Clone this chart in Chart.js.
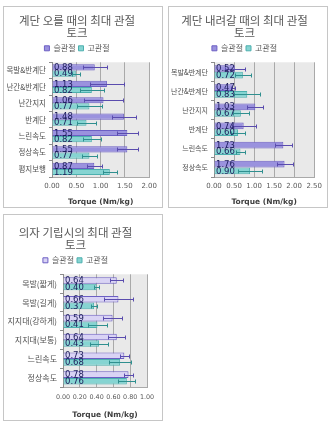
<!DOCTYPE html>
<html>
<head>
<meta charset="utf-8">
<script src="https://cdn.jsdelivr.net/npm/chart.js@4.4.0/dist/chart.umd.min.js"></script>
<style>
  body { margin: 0; background: #fff; width: 332px; height: 424px; position: relative; overflow: hidden; }
  .panel { position: absolute; border: 1px solid #c6c6c6; background: #fff; }
  .panel canvas { display: block; }
</style>
</head>
<body>
<div class="panel" style="left:3px;top:6px;width:158px;height:200px"><canvas id="upChart" width="158" height="200"></canvas></div>
<div class="panel" style="left:168px;top:6px;width:158px;height:200px"><canvas id="downChart" width="158" height="200"></canvas></div>
<div class="panel" style="left:3px;top:214px;width:158px;height:205px"><canvas id="standChart" width="158" height="205"></canvas></div>

<script>
// stair ascent
const upLabels = ["목발&반계단", "난간&반계단", "난간지지", "반계단", "느린속도", "정상속도", "평지보행"];
const upKnee = [0.88, 1.13, 1.06, 1.48, 1.55, 1.55, 0.87];
const upKneeErr = [0.25, 0.35, 0.40, 0.25, 0.22, 0.22, 0.15];
const upHip = [0.49, 0.82, 0.77, 0.71, 0.82, 0.77, 1.19];
const upHipErr = [0.08, 0.24, 0.26, 0.20, 0.18, 0.15, 0.15];

// stair descent
const downLabels = ["목발&반계단", "난간&반계단", "난간지지", "반계단", "느린속도", "정상속도"];
const downKnee = [0.52, 0.47, 1.03, 0.74, 1.73, 1.76];
const downKneeErr = [0.25, 0.05, 0.20, 0.30, 0.22, 0.20];
const downHip = [0.72, 0.83, 0.67, 0.60, 0.66, 0.90];
const downHipErr = [0.20, 0.33, 0.20, 0.18, 0.12, 0.30];

// sit to stand
const standLabels = ["목발(짧게)", "목발(길게)", "지지대(강하게)", "지지대(보통)", "느린속도", "정상속도"];
const standKnee = [0.64, 0.66, 0.59, 0.64, 0.73, 0.78];
const standKneeErr = [0.08, 0.17, 0.11, 0.10, 0.05, 0.05];
const standHip = [0.40, 0.37, 0.41, 0.43, 0.68, 0.76];
const standHipErr = [0.03, 0.04, 0.11, 0.11, 0.13, 0.10];

const seriesNames = ["슬관절", "고관절"];
const axisTitle = "Torque (Nm/kg)";

const KR = '"Noto Sans CJK KR", "Noto Sans", sans-serif';
const NUM = '"DejaVu Sans", sans-serif';

// gray plot area
const plotBg = {
  id: "plotBg",
  beforeDraw(chart) {
    const { ctx, chartArea: a } = chart;
    ctx.save();
    ctx.fillStyle = "#e9e9e9";
    ctx.fillRect(a.left, a.top, a.right - a.left, a.bottom - a.top);
    ctx.restore();
  }
};

// whiskers from the errors array on each dataset
const errorBars = {
  id: "errorBars",
  afterDatasetsDraw(chart) {
    const { ctx } = chart;
    const xs = chart.scales.x;
    chart.data.datasets.forEach((ds, i) => {
      const meta = chart.getDatasetMeta(i);
      ctx.save();
      ctx.strokeStyle = ds.whisker;
      ctx.lineWidth = 1;
      meta.data.forEach((bar, j) => {
        const v = ds.data[j], e = ds.errors[j];
        const x1 = Math.round(xs.getPixelForValue(v - e)) + 0.5;
        const x2 = Math.round(xs.getPixelForValue(v + e)) + 0.5;
        const y = Math.round(bar.y) + 0.5;
        ctx.beginPath();
        ctx.moveTo(x1, y); ctx.lineTo(x2, y);
        ctx.moveTo(x1, y - 2); ctx.lineTo(x1, y + 2);
        ctx.moveTo(x2, y - 2); ctx.lineTo(x2, y + 2);
        ctx.stroke();
      });
      ctx.restore();
    });
  }
};

// value text at the base of each bar
const valueLabels = {
  id: "valueLabels",
  afterDraw(chart) {
    const { ctx, chartArea: a } = chart;
    ctx.save();
    ctx.font = "8.5px " + NUM;
    ctx.fillStyle = "#1c1c5a";
    ctx.textBaseline = "middle";
    chart.data.datasets.forEach((ds, i) => {
      chart.getDatasetMeta(i).data.forEach((bar, j) => {
        ctx.fillText(ds.data[j].toFixed(2), a.left + 2, bar.y + 0.5);
      });
    });
    ctx.restore();
  }
};

function makeChart(id, o) {
  return new Chart(document.getElementById(id), {
    type: "bar",
    data: {
      labels: o.labels,
      datasets: [
        { label: seriesNames[0], data: o.knee, errors: o.kneeErr, whisker: "#5a4cae",
          backgroundColor: o.kneeFill, borderColor: "#6c5fc4", borderWidth: 1 },
        { label: seriesNames[1], data: o.hip, errors: o.hipErr, whisker: "#2f8f8f",
          backgroundColor: "#86d4d2", borderColor: "#4cb0ae", borderWidth: 1 }
      ]
    },
    plugins: [plotBg, errorBars, valueLabels],
    options: {
      responsive: false,
      animation: false,
      indexAxis: "y",
      categoryPercentage: o.cat,
      barPercentage: 1,
      layout: { padding: { left: 0, right: o.padRight, top: 0, bottom: 0 } },
      plugins: {
        tooltip: { enabled: false },
        title: {
          display: true, text: o.title, color: "#595959",
          font: { family: KR, size: 11.5, weight: "normal", lineHeight: 1.1 },
          padding: { top: o.titleTop, bottom: 2 }
        },
        legend: {
          position: "top",
          labels: {
            boxWidth: 5, boxHeight: 5, padding: 3, color: "#595959",
            font: { family: KR, size: 8 }
          }
        }
      },
      scales: {
        x: {
          min: 0, max: o.max,
          ticks: { stepSize: o.step, color: "#595959", font: { family: NUM, size: o.xFont },
                   padding: o.tickPad, maxRotation: 0, minRotation: 0, autoSkip: false,
                   callback: v => Number(v).toFixed(2) },
          grid: { color: "#a9a9a9", tickLength: 0 },
          border: { color: "#a9a9a9" },
          title: { display: true, text: axisTitle, color: "#404040",
                   font: { family: NUM, size: 7.5, weight: "bold" }, padding: { top: o.titlePad, bottom: 0 } }
        },
        y: {
          afterFit: s => { s.width = o.axisW; },
          ticks: { color: "#505050", font: { family: KR, size: o.yFont }, padding: 3 },
          grid: { drawOnChartArea: false, offset: true, tickLength: 3, color: "#8c8c8c" },
          border: { color: "#8c8c8c" }
        }
      }
    }
  });
}

makeChart("upChart", {
  title: ["계단 오를 때의 최대 관절", "토크"],
  labels: upLabels, knee: upKnee, kneeErr: upKneeErr, hip: upHip, hipErr: upHipErr,
  kneeFill: "#9a92de", max: 2, step: 0.5, axisW: 48, padRight: 12, cat: 0.75,
  titleTop: 7, tickPad: 5, titlePad: 2.5, yFont: 7.5, xFont: 7
});
makeChart("downChart", {
  title: ["계단 내려갈 때의 최대 관절", "토크"],
  labels: downLabels, knee: downKnee, kneeErr: downKneeErr, hip: downHip, hipErr: downHipErr,
  kneeFill: "#9a92de", max: 2.5, step: 0.5, axisW: 45, padRight: 7, cat: 0.7,
  titleTop: 7, tickPad: 5, titlePad: 2.5, yFont: 7, xFont: 7
});
makeChart("standChart", {
  title: ["의자 기립시의 최대 관절", "토크"],
  labels: standLabels, knee: standKnee, kneeErr: standKneeErr, hip: standHip, hipErr: standHipErr,
  kneeFill: "#d9d3f5", max: 1, step: 0.2, axisW: 59, padRight: 15, cat: 0.7,
  titleTop: 11, tickPad: 6.5, titlePad: 3, yFont: 8, xFont: 6.4
});
</script>
</body>
</html>
